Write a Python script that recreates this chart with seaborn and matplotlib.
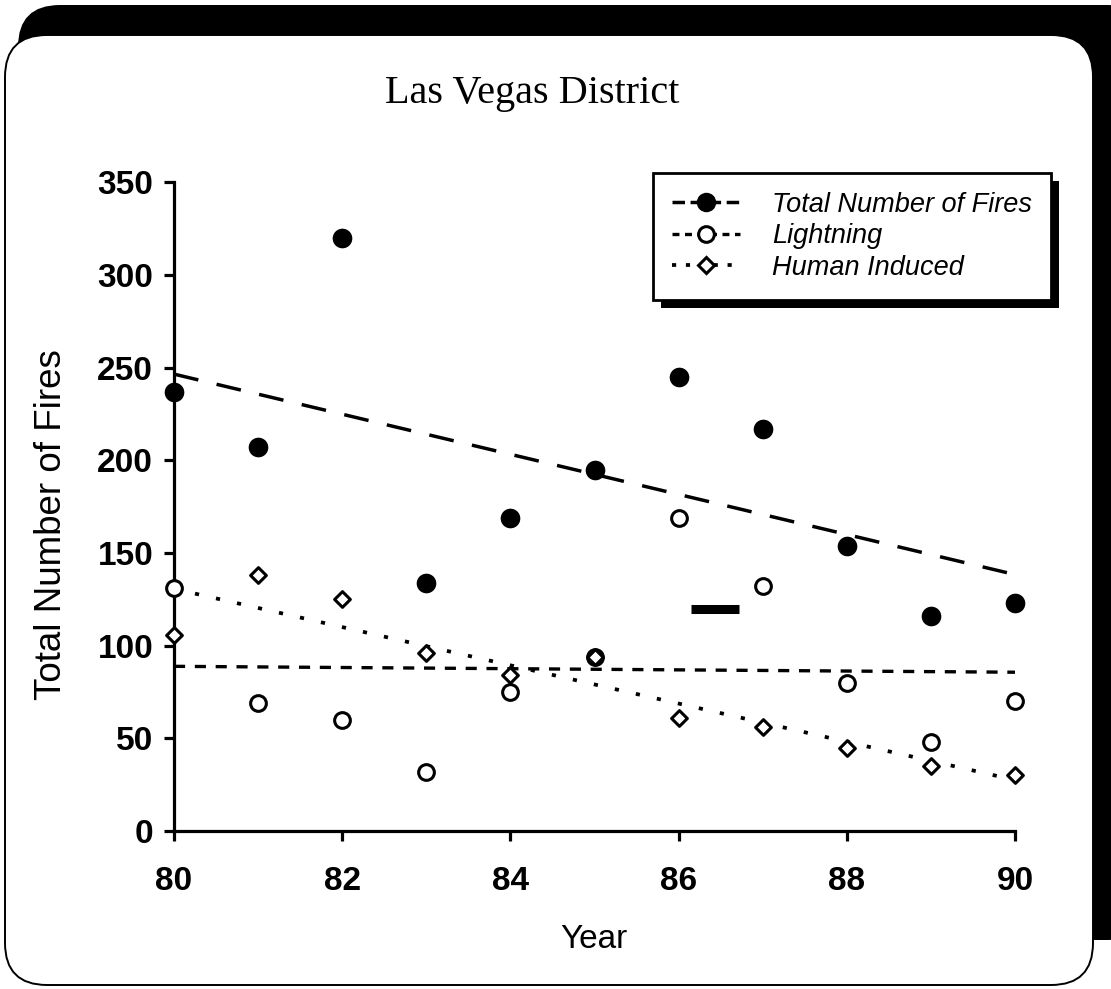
import matplotlib
matplotlib.use("Agg")
import matplotlib.pyplot as plt
import seaborn as sns
from matplotlib.patches import FancyBboxPatch, Rectangle
from matplotlib.lines import Line2D

# ---- data -------------------------------------------------------------
years = [80, 81, 82, 83, 84, 85, 86, 87, 88, 89, 90]
total_fires = [237, 207, 320, 134, 169, 195, 245, 217, 154, 116, 123]
lightning = [131, 69, 60, 32, 75, 94, 169, 132, 80, 48, 70]
human_induced = [106, 138, 125, 96, 84, 94, 61, 56, 45, 35, 30]

series_labels = ["Total Number of Fires", "Lightning", "Human Induced"]
x_ticks = [80, 82, 84, 86, 88, 90]
y_ticks = [0, 50, 100, 150, 200, 250, 300, 350]

# short solid bar sitting inside the plot area
bar_x = [86.15, 86.72]
bar_y = [120, 120]

title = "Las Vegas District"
x_label = "Year"
y_label = "Total Number of Fires"

# ---- styling ----------------------------------------------------------
sns.set_theme(style="white")
plt.rcParams["font.family"] = ["Liberation Sans", "DejaVu Sans"]
plt.rcParams["lines.scale_dashes"] = False
plt.rcParams["text.color"] = "black"

W, H = 1111, 989
fig = plt.figure(figsize=(W / 100, H / 100), dpi=100)
fig.patch.set_facecolor("white")


def fx(px):
    return px / W


def fy(py):
    return 1 - py / H


def inch(px_x, px_y):
    return px_x / 100, (H - px_y) / 100


# rounded frame with a heavy black drop shadow
sx0, sy0 = inch(18, 940)
shadow = FancyBboxPatch((sx0, sy0), (1150 - 18) / 100, (940 - 5) / 100,
                        boxstyle="round,pad=0,rounding_size=0.42",
                        transform=fig.dpi_scale_trans, fc="black", ec="none",
                        zorder=-3)
fig.add_artist(shadow)
bx0, by0 = inch(5, 985)
box = FancyBboxPatch((bx0, by0), (1093 - 5) / 100, (985 - 35) / 100,
                     boxstyle="round,pad=0,rounding_size=0.42",
                     transform=fig.dpi_scale_trans, fc="white", ec="black",
                     lw=1.4, zorder=-2)
fig.add_artist(box)

ax = fig.add_axes([fx(174), fy(831), fx(1015) - fx(174), fy(182.4) - fy(831)])
ax.patch.set_alpha(0)

LW = 2.2
total_ls = (0, (18, 13.5))
light_ls = (0, (8, 7))
human_ls = (0, (3, 12.5))

# fitted trend lines
sns.regplot(x=years, y=total_fires, ax=ax, scatter=False, ci=None, color="black",
            line_kws=dict(lw=2.5, linestyle=total_ls, dash_capstyle="butt"))
sns.regplot(x=years, y=lightning, ax=ax, scatter=False, ci=None, color="black",
            line_kws=dict(lw=2.4, linestyle=light_ls, dash_capstyle="butt"))
sns.regplot(x=years, y=human_induced, ax=ax, scatter=False, ci=None, color="black",
            line_kws=dict(lw=2.7, linestyle=human_ls, dash_capstyle="butt"))

# observations
sns.scatterplot(x=years, y=total_fires, ax=ax, marker="o", s=200, color="black",
                edgecolor="black", linewidth=0, clip_on=False, zorder=6)
sns.scatterplot(x=years, y=lightning, ax=ax, marker="o", s=128, color="black",
                facecolor="white", edgecolor="black", linewidth=LW,
                clip_on=False, zorder=6)
sns.scatterplot(x=years, y=human_induced, ax=ax, marker="D", s=64, color="black",
                facecolor="white", edgecolor="black", linewidth=LW,
                clip_on=False, zorder=7)

ax.plot(bar_x, bar_y, color="black", lw=6.5, solid_capstyle="butt", zorder=5)

# axes
ax.set_xlim(80, 90)
ax.set_ylim(0, 350)
ax.set_xticks(x_ticks)
ax.set_yticks(y_ticks)
ax.set_xlabel("")
ax.set_ylabel("")
for side in ("top", "right"):
    ax.spines[side].set_visible(False)
for side in ("left", "bottom"):
    ax.spines[side].set_linewidth(2.3)
    ax.spines[side].set_color("black")
ax.tick_params(axis="both", direction="out", length=7, width=2.3, color="black",
               labelcolor="black")
ax.tick_params(axis="x", pad=18, labelsize=24)
ax.tick_params(axis="y", pad=8, labelsize=24)
for lab in ax.get_xticklabels() + ax.get_yticklabels():
    lab.set_fontweight("bold")
ax.xaxis.set_ticks_position("bottom")
ax.yaxis.set_ticks_position("left")
ax.grid(False)

# legend
handles = [
    Line2D([], [], color="black", lw=2.5, linestyle=(0, (9, 4)), marker="o",
           markersize=14, markerfacecolor="black", markeredgewidth=0),
    Line2D([], [], color="black", lw=2.4, linestyle=(0, (5, 4)), marker="o",
           markersize=11.3, markerfacecolor="white", markeredgecolor="black",
           markeredgewidth=LW),
    Line2D([], [], color="black", lw=2.7, linestyle=(0, (3, 7)), marker="D",
           markersize=8, markerfacecolor="white", markeredgecolor="black",
           markeredgewidth=LW),
]
leg = ax.legend(handles, series_labels, loc="upper left",
                bbox_to_anchor=((653 - 174) / 841, (831 - 173) / 648.6),
                borderaxespad=0, frameon=True, fancybox=False, framealpha=1,
                edgecolor="black", facecolor="white", numpoints=1,
                handlelength=2.5, handletextpad=1.2, borderpad=0.7,
                labelspacing=0.2, labelcolor="black",
                prop=dict(style="italic", size=19.5))
leg.get_frame().set_linewidth(2.0)
leg.set_zorder(10)

fig.canvas.draw()
bb = leg.get_frame().get_window_extent()
inv = ax.transAxes.inverted()
(lx0, ly0), (lx1, ly1) = inv.transform([[bb.x0 + 8, bb.y0 - 8], [bb.x1 + 8, bb.y1 - 8]])
ax.add_patch(Rectangle((lx0, ly0), lx1 - lx0, ly1 - ly0, transform=ax.transAxes,
                       fc="black", ec="none", clip_on=False, zorder=9.5))

# texts
fig.text(fx(532), fy(103), title, ha="center", va="baseline", fontsize=29,
         family=["Liberation Serif", "DejaVu Serif"], color="black")
fig.text(fx(594), fy(948), x_label, ha="center", va="baseline", fontsize=24,
         color="black")
fig.text(fx(52), fy(525), y_label, ha="center", va="center", rotation=90,
         fontsize=26.5, color="black")

fig.savefig("out.png", dpi=100, facecolor="white")
